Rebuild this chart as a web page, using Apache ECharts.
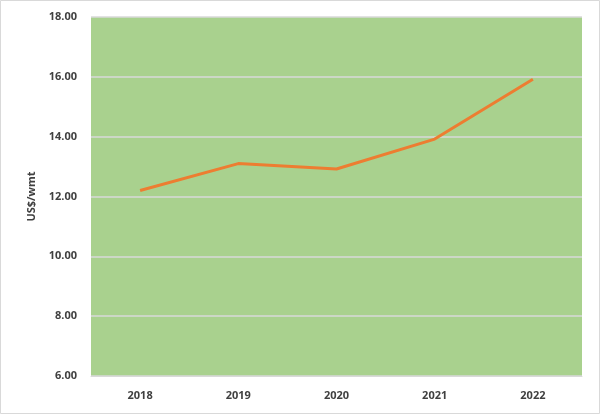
<!DOCTYPE html>
<html>
<head>
<meta charset="utf-8">
<script src="https://cdn.jsdelivr.net/npm/echarts@6/dist/echarts.min.js"></script>
<style>
  html, body { margin: 0; padding: 0; background: #fff; }
  #chart { width: 600px; height: 414px; }
</style>
</head>
<body>
<div id="chart"></div>
<script>
// data
var years = ['2018', '2019', '2020', '2021', '2022'];
var price = [12.2, 13.1, 12.92, 13.92, 15.92];

var chart = echarts.init(document.getElementById('chart'));

var textStyle = { color: '#404040', fontFamily: 'Open Sans', fontWeight: 'bold', fontSize: 11 };

chart.setOption({
    animation: false,
    backgroundColor: '#fff',
    graphic: [{
        type: 'rect',
        shape: { x: 0.5, y: 0.5, width: 599, height: 413 },
        style: { fill: 'none', stroke: '#d9d9d9', lineWidth: 1 },
        silent: true
    }],
    grid: {
        left: 91, right: 18, top: 17, bottom: 38,
        show: true, backgroundColor: '#a9d18e', borderWidth: 0
    },
    xAxis: {
        type: 'category',
        data: years,
        boundaryGap: true,
        axisLine: { lineStyle: { color: '#d9d9d9', width: 1 } },
        axisTick: { show: false },
        axisLabel: Object.assign({ margin: 14 }, textStyle)
    },
    yAxis: {
        type: 'value',
        min: 6, max: 18, interval: 2,
        name: 'US$/wmt',
        nameLocation: 'middle',
        nameGap: 52,
        nameTextStyle: textStyle,
        axisLine: { show: false },
        axisTick: { show: false },
        axisLabel: Object.assign({ margin: 14, formatter: function (v) { return v.toFixed(2); } }, textStyle),
        splitLine: { lineStyle: { color: '#d9d9d9', width: 1.5 } }
    },
    series: [{
        type: 'line',
        data: price,
        symbol: 'none',
        lineStyle: { color: '#ed7d31', width: 3 },
        itemStyle: { color: '#ed7d31' }
    }]
});
</script>
</body>
</html>
